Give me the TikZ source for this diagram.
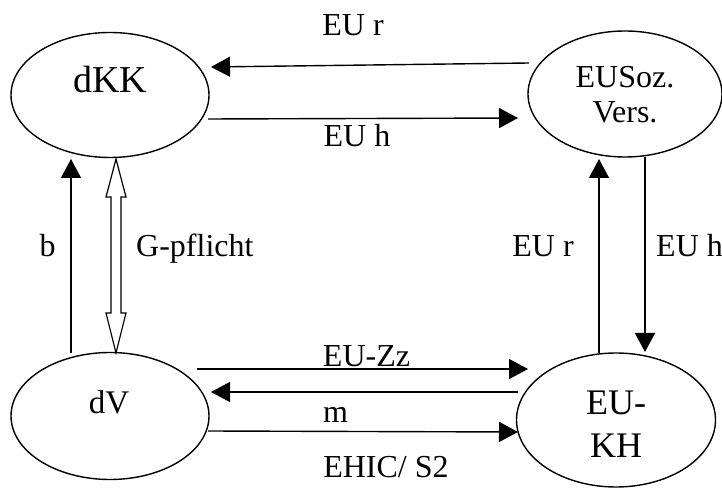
\documentclass[tikz,border=0pt]{standalone}
\usepackage{fontspec}
\setmainfont{Liberation Serif}
\usetikzlibrary{arrows.meta,shapes.geometric,calc}

\begin{document}
\begin{tikzpicture}[x=1pt,y=1pt,
  party/.style={draw,ellipse,line width=1.4pt,inner sep=0pt},
  nametext/.style={anchor=base,inner sep=0pt,align=center},
  flow/.style={line width=1.4pt,-{Triangle[length=19pt,width=20pt]}},
  flowlabel/.style={anchor=base,inner sep=0pt,font=\fontsize{32}{36}\selectfont}]

\useasboundingbox (0,0) rectangle (722,487);

% the four parties
\node[party,minimum width=198pt,minimum height=125pt] (dKK) at (110,392) {};
\node[party,minimum width=194pt,minimum height=126pt] (EUSV) at (625,393) {};
\node[party,minimum width=198pt,minimum height=127pt] (dV) at (110,71) {};
\node[party,minimum width=199pt,minimum height=134pt] (EUKH) at (616,67) {};

% names inside the ellipses (base anchor = baseline of the last line)
\node[nametext,font=\fontsize{38}{42}\selectfont] (tdKK) at (110,394) {dKK};
\node[nametext,font=\fontsize{32}{35}\selectfont] (tEUSV) at (625,364) {EUSoz.\\Vers.};
\node[nametext,font=\fontsize{33}{38}\selectfont] (tdV) at (109,74) {dV};
\node[nametext,font=\fontsize{36}{42}\selectfont] (tEUKH) at (616,30) {EU-\\KH};

% connector end points
\coordinate (a1s) at (529,424); \coordinate (a1e) at (211,420);
\coordinate (a2s) at (208,368); \coordinate (a2e) at (518,369);
\coordinate (a3s) at (71,134);  \coordinate (a3e) at (71,328);
\coordinate (a4s) at (599,134); \coordinate (a4e) at (599,328);
\coordinate (a5s) at (645,330); \coordinate (a5e) at (645,135);
\coordinate (a6s) at (197,118); \coordinate (a6e) at (528,118);
\coordinate (a7s) at (518,95);  \coordinate (a7e) at (211,95);
\coordinate (a8s) at (208,56);  \coordinate (a8e) at (518,55);
\coordinate (gtop) at (116,328); \coordinate (gbot) at (116,134);

% flows between the parties
\draw[flow] (a1s) -- (a1e);
\draw[flow] (a2s) -- (a2e);
\draw[flow] (a3s) -- (a3e);
\draw[flow] (a4s) -- (a4e);
\draw[flow] (a5s) -- (a5e);
\draw[flow] (a6s) -- (a6e);
\draw[flow] (a7s) -- (a7e);
\draw[flow] (a8s) -- (a8e);

% hollow double-headed arrow
\draw[line width=1.2pt,fill=white,line join=miter]
  (gtop) -- ++(10,-38) -- ++(-5,0) -- ($(gbot)+(5,40)$) -- ++(5,0) -- (gbot)
  -- ++(-10,40) -- ++(5,0) -- ($(gtop)+(-5,-38)$) -- ++(-5,0) -- cycle;

% labels
\node[flowlabel] (l1) at (353,451) {EU r};
\node[flowlabel] (l2) at (357,340) {EU h};
\node[flowlabel] (l3) at (47.5,230) {b};
\node[flowlabel,anchor=base west] (l4) at (136,230) {G-pflicht};
\node[flowlabel] (l5) at (543,230) {EU r};
\node[flowlabel,anchor=base west] (l6) at (656,230) {EU h};
\node[flowlabel] (l7) at (366.5,120) {EU-Zz};
\node[flowlabel] (l8) at (335.5,65) {m};
\node[flowlabel] (l9) at (386,10) {EHIC/ S2};
\end{tikzpicture}
\end{document}
